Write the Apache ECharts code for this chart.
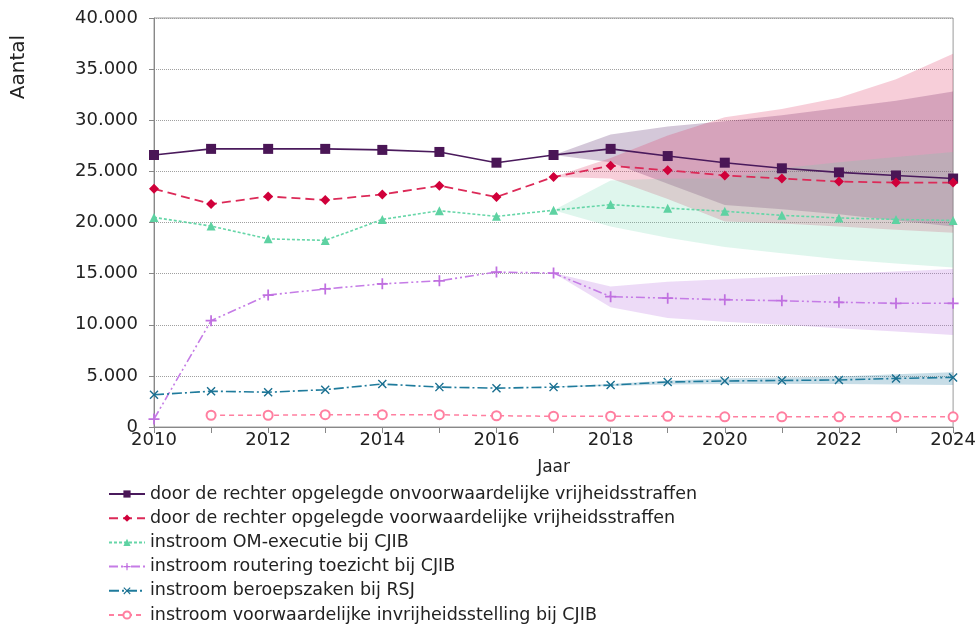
<!DOCTYPE html>
<html>
<head>
<meta charset="utf-8">
<script src="https://cdn.jsdelivr.net/npm/echarts@6/dist/echarts.min.js"></script>
<style>
  html, body { margin: 0; padding: 0; background: #fff; }
  #chart { width: 979px; height: 629px; }
</style>
</head>
<body>
<div id="chart"></div>
<script>
// jaren op de x-as
var years = ['2010', '2011', '2012', '2013', '2014', '2015', '2016', '2017',
             '2018', '2019', '2020', '2021', '2022', '2023', '2024'];

// gerealiseerd + raming
var onvoorwaardelijk = [26600, 27200, 27200, 27200, 27100, 26900, 25850, 26600, 27200, 26500, 25850, 25300, 24900, 24600, 24300];
var voorwaardelijk   = [23300, 21800, 22550, 22200, 22750, 23600, 22500, 24450, 25550, 25100, 24600, 24300, 24000, 23900, 23900];
var omExecutie       = [20500, 19650, 18400, 18250, 20300, 21150, 20600, 21200, 21750, 21400, 21100, 20700, 20450, 20300, 20200];
var routering        = [780, 10400, 12900, 13500, 14000, 14300, 15150, 15050, 12750, 12600, 12450, 12350, 12200, 12100, 12100];
var beroepszaken     = [3150, 3500, 3400, 3650, 4200, 3900, 3800, 3900, 4100, 4400, 4500, 4550, 4600, 4750, 4850];
var invrijheid       = [null, 1150, 1150, 1200, 1200, 1200, 1100, 1050, 1050, 1050, 1000, 1000, 1000, 1000, 1000];

// onzekerheidsmarges, vanaf 2017 (index 7)
var bandStart = 7;
var onvoorwUp  = [26600, 28600, 29400, 29900, 30500, 31200, 31900, 32800];
var onvoorwLo  = [26600, 25900, 23800, 21700, 21300, 20800, 20200, 19600];
var voorwUp    = [24450, 26300, 28500, 30300, 31100, 32200, 34000, 36500];
var voorwLo    = [24450, 24300, 22300, 20100, 19900, 19600, 19300, 19000];
var omUp       = [21200, 24100, 24300, 24300, 25300, 25900, 26400, 26900];
var omLo       = [21200, 19600, 18500, 17600, 17000, 16400, 16000, 15600];
var routUp     = [15050, 13750, 14200, 14450, 14700, 15000, 15200, 15450];
var routLo     = [15050, 11700, 10650, 10300, 10000, 9650, 9350, 9000];
var beroepUp   = [3900, 4200, 4550, 4750, 4850, 4950, 5150, 5350];
var beroepLo   = [3900, 4000, 4150, 4200, 4200, 4200, 4150, 4100];

var yTicks = { min: 0, max: 40000, interval: 5000 };

var FONT = 'DejaVu Sans';

function fmt(v) {
  return String(v).replace(/\B(?=(\d{3})+(?!\d))/g, '.');
}

// band als polygoon via de assen van echarts
function band(upper, lower, color) {
  return {
    type: 'custom',
    silent: true,
    z: 1,
    data: [[0, 0]],
    renderItem: function (params, api) {
      var pts = [];
      for (var i = 0; i < upper.length; i++) {
        pts.push(api.coord([bandStart + i, upper[i]]));
      }
      for (var j = lower.length - 1; j >= 0; j--) {
        pts.push(api.coord([bandStart + j, lower[j]]));
      }
      return { type: 'polygon', shape: { points: pts }, style: { fill: color } };
    }
  };
}

var plusPath = 'path://M4.2,0H5.8V4.2H10V5.8H5.8V10H4.2V5.8H0V4.2H4.2Z';
var crossPath = 'path://M0,1.1L1.1,0L5,3.9L8.9,0L10,1.1L6.1,5L10,8.9L8.9,10L5,6.1L1.1,10L0,8.9L3.9,5Z';

var names = [
  'door de rechter opgelegde onvoorwaardelijke vrijheidsstraffen',
  'door de rechter opgelegde voorwaardelijke vrijheidsstraffen',
  'instroom OM-executie bij CJIB',
  'instroom routering toezicht bij CJIB',
  'instroom beroepszaken bij RSJ',
  'instroom voorwaardelijke invrijheidsstelling bij CJIB'
];

var chart = echarts.init(document.getElementById('chart'));
chart.setOption({
  animation: false,
  textStyle: { fontFamily: FONT },
  grid: {
    left: 154, right: 25, top: 18, bottom: 202,
    show: true, borderColor: '#9a9a9a', borderWidth: 1
  },
  legend: {
    data: names,
    orient: 'vertical',
    left: 108,
    top: 485,
    height: 160,
    padding: 0,
    itemWidth: 36,
    itemHeight: 9,
    itemGap: 6.2,
    textStyle: { fontSize: 17.5, color: '#222', fontFamily: FONT }
  },
  graphic: [{
    type: 'text',
    x: 19, y: 67,
    rotation: Math.PI / 2,
    style: {
      text: 'Aantal', fill: '#222', font: '20px "DejaVu Sans"',
      textAlign: 'center', textVerticalAlign: 'middle'
    }
  }],
  xAxis: {
    type: 'category',
    data: years,
    boundaryGap: false,
    name: 'Jaar',
    nameLocation: 'middle',
    nameGap: 32,
    nameTextStyle: { fontSize: 17, color: '#222' },
    axisLine: { lineStyle: { color: '#888' } },
    axisTick: { show: true, interval: 0, length: 6, lineStyle: { color: '#888' } },
    axisLabel: { interval: 1, fontSize: 18, color: '#222', margin: 4 },
    splitLine: { show: false }
  },
  yAxis: {
    type: 'value',
    min: yTicks.min, max: yTicks.max, interval: yTicks.interval,
    axisLine: { show: true, lineStyle: { color: '#888' } },
    axisTick: { show: true, length: 5, lineStyle: { color: '#888' } },
    axisLabel: { fontSize: 18, color: '#222', margin: 16, formatter: fmt },
    splitLine: { show: true, lineStyle: { color: '#a0a0a0', type: 'dotted', width: 1 } }
  },
  series: [
    band(onvoorwUp, onvoorwLo, 'rgba(75,25,95,0.24)'),
    band(voorwUp, voorwLo, 'rgba(220,30,80,0.22)'),
    band(omUp, omLo, 'rgba(95,211,166,0.2)'),
    band(routUp, routLo, 'rgba(185,110,225,0.25)'),
    band(beroepUp, beroepLo, 'rgba(30,120,160,0.25)'),
    {
      name: names[0], type: 'line', data: onvoorwaardelijk, z: 5,
      symbol: 'rect', symbolSize: 10,
      lineStyle: { color: '#4a1a5c', width: 1.6, type: 'solid' },
      itemStyle: { color: '#4a1656' }
    },
    {
      name: names[1], type: 'line', data: voorwaardelijk, z: 5,
      symbol: 'diamond', symbolSize: 10,
      lineStyle: { color: '#dc2a58', width: 1.8, type: [9, 5] },
      itemStyle: { color: '#d0003a' }
    },
    {
      name: names[2], type: 'line', data: omExecutie, z: 5,
      symbol: 'triangle', symbolSize: 9,
      lineStyle: { color: '#66d6a8', width: 1.6, type: [3, 2] },
      itemStyle: { color: '#5ed2a2' }
    },
    {
      name: names[3], type: 'line', data: routering, z: 5,
      symbol: plusPath, symbolSize: 11,
      lineStyle: { color: '#c57ce6', width: 1.6, type: [9, 3, 2, 3, 2, 3] },
      itemStyle: { color: '#c070e0' }
    },
    {
      name: names[4], type: 'line', data: beroepszaken, z: 5,
      symbol: crossPath, symbolSize: 9,
      lineStyle: { color: '#1f7b9c', width: 1.6, type: [10, 3, 2, 3] },
      itemStyle: { color: '#1a6f90' }
    },
    {
      name: names[5], type: 'line', data: invrijheid, z: 5,
      symbol: 'emptyCircle', symbolSize: 9,
      lineStyle: { color: '#ff7fa0', width: 1.5, type: [5, 4] },
      itemStyle: { color: '#ff7fa0', borderWidth: 1.5 }
    }
  ]
});
</script>
</body>
</html>
